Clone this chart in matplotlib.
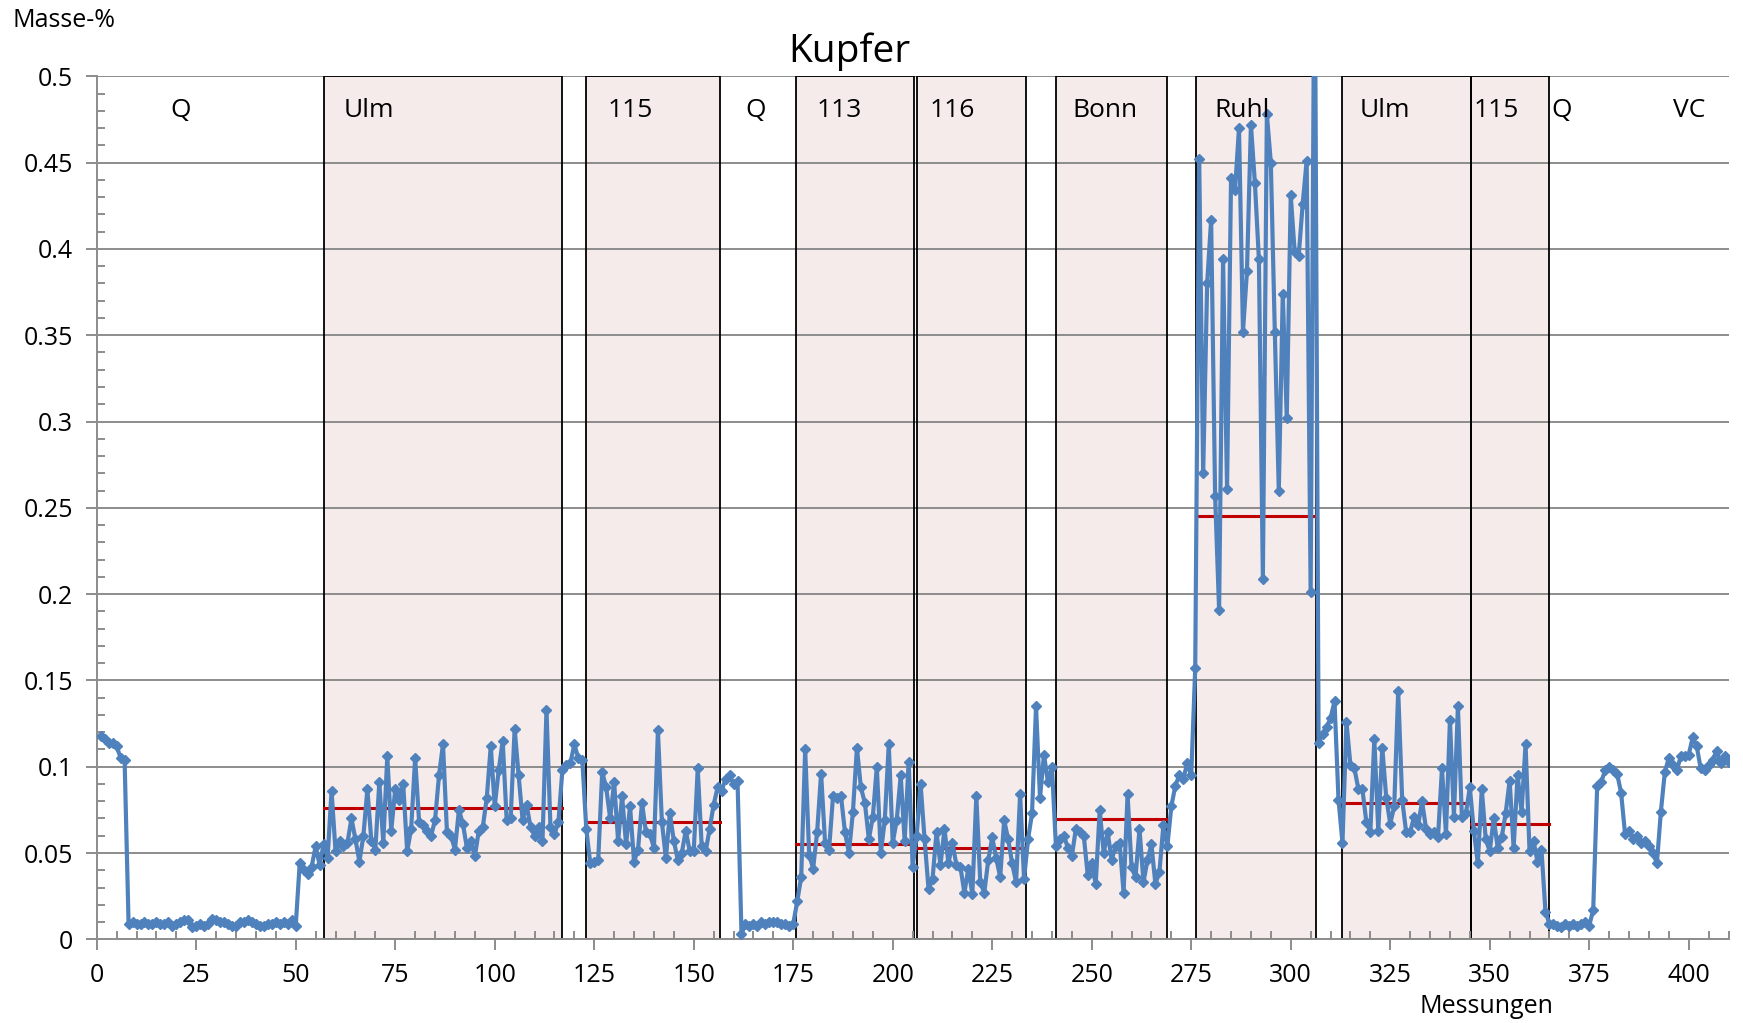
import numpy as np
import matplotlib.pyplot as plt
from matplotlib.patches import Rectangle
from matplotlib.ticker import MultipleLocator, FuncFormatter

plt.rcParams['font.family'] = ['Open Sans', 'DejaVu Sans']

# Kupfer, Masse-% je Messung (Messung 1..410)
q_start = [0.118, 0.116, 0.114, 0.114, 0.112, 0.105, 0.104,
           0.009, 0.010, 0.009, 0.009, 0.010, 0.009, 0.009, 0.010, 0.009, 0.009,
           0.010, 0.008, 0.009, 0.010, 0.011, 0.011, 0.007, 0.008, 0.009, 0.008,
           0.009, 0.012, 0.011, 0.010, 0.010, 0.009, 0.008, 0.008, 0.010, 0.010,
           0.011, 0.010, 0.009, 0.008, 0.008, 0.009, 0.009, 0.010, 0.009, 0.010,
           0.009, 0.011, 0.008,
           0.044, 0.040, 0.038, 0.042, 0.054, 0.043, 0.055]
ulm_a = [0.047, 0.086, 0.051, 0.057, 0.054, 0.056, 0.070, 0.058, 0.045, 0.060,
         0.087, 0.057, 0.052, 0.091, 0.056, 0.106, 0.063, 0.087, 0.081, 0.090,
         0.051, 0.064, 0.105, 0.068, 0.066, 0.063, 0.060, 0.069, 0.095, 0.113,
         0.062, 0.060, 0.052, 0.075, 0.067, 0.053, 0.057, 0.048, 0.063, 0.065,
         0.082, 0.112, 0.077, 0.098, 0.115, 0.069, 0.070, 0.122, 0.095, 0.069,
         0.078, 0.065, 0.060, 0.065, 0.057, 0.133, 0.065, 0.061, 0.068, 0.098]
gap_a = [0.101, 0.102, 0.113, 0.105, 0.104]
p115_a = [0.064, 0.044, 0.045, 0.046, 0.097, 0.088, 0.070, 0.091, 0.057, 0.083,
          0.055, 0.077, 0.045, 0.052, 0.079, 0.062, 0.061, 0.053, 0.121, 0.068,
          0.047, 0.073, 0.057, 0.046, 0.050, 0.063, 0.051, 0.051, 0.099, 0.054,
          0.051, 0.064, 0.078, 0.088]
gap_b = [0.086, 0.093, 0.095, 0.090, 0.092]
q_mid = [0.003, 0.009, 0.008, 0.009, 0.008, 0.010, 0.009, 0.010, 0.010, 0.010,
         0.009, 0.009, 0.008, 0.009]
p113 = [0.022, 0.036, 0.110, 0.049, 0.041, 0.062, 0.096, 0.056, 0.052, 0.083,
        0.082, 0.083, 0.062, 0.050, 0.074, 0.111, 0.088, 0.079, 0.058, 0.071,
        0.100, 0.050, 0.069, 0.113, 0.056, 0.069, 0.095, 0.057, 0.103, 0.042, 0.060]
p116 = [0.090, 0.058, 0.029, 0.035, 0.062, 0.043, 0.064, 0.044, 0.056, 0.043,
        0.042, 0.027, 0.041, 0.026, 0.083, 0.033, 0.027, 0.046, 0.059, 0.047,
        0.036, 0.069, 0.058, 0.044, 0.033, 0.084, 0.035]
gap_c = [0.058, 0.073, 0.135, 0.082, 0.107, 0.091, 0.100]
bonn = [0.054, 0.058, 0.060, 0.053, 0.048, 0.064, 0.062, 0.060, 0.037, 0.044,
        0.032, 0.075, 0.050, 0.062, 0.046, 0.054, 0.056, 0.027, 0.084, 0.042,
        0.036, 0.064, 0.033, 0.046, 0.055, 0.032, 0.039, 0.066, 0.054]
gap_d = [0.077, 0.089, 0.095, 0.093, 0.102, 0.095, 0.157]
ruhl = [0.452, 0.270, 0.380, 0.417, 0.257, 0.191, 0.394, 0.261, 0.441, 0.434,
        0.470, 0.352, 0.387, 0.472, 0.438, 0.394, 0.209, 0.478, 0.450, 0.352,
        0.260, 0.374, 0.302, 0.431, 0.398, 0.396, 0.426, 0.451, 0.201]
gap_e = [0.600, 0.114, 0.119, 0.123, 0.128, 0.138, 0.081]
ulm_b = [0.056, 0.126, 0.101, 0.099, 0.087, 0.087, 0.068, 0.062, 0.116, 0.063,
         0.111, 0.082, 0.067, 0.077, 0.144, 0.081, 0.062, 0.062, 0.071, 0.066,
         0.080, 0.064, 0.061, 0.062, 0.059, 0.099, 0.061, 0.127, 0.071, 0.135,
         0.071, 0.073, 0.088]
p115_b = [0.063, 0.044, 0.087, 0.058, 0.051, 0.070, 0.053, 0.059, 0.073, 0.092,
          0.053, 0.095, 0.074, 0.113, 0.051, 0.057, 0.045, 0.052, 0.016]
q_end = [0.009, 0.009, 0.008, 0.007, 0.009, 0.008, 0.009, 0.008, 0.009, 0.010,
         0.008, 0.017]
vc = [0.089, 0.091, 0.098, 0.100, 0.098, 0.096, 0.085, 0.061, 0.063, 0.058,
      0.060, 0.056, 0.057, 0.054, 0.050, 0.044, 0.074, 0.097, 0.105, 0.101,
      0.098, 0.106, 0.106, 0.107, 0.117, 0.112, 0.099, 0.098, 0.101, 0.104,
      0.109, 0.102, 0.106, 0.103]

werte = np.array(q_start + ulm_a + gap_a + p115_a + gap_b + q_mid + p113 + p116
                 + gap_c + bonn + gap_d + ruhl + gap_e + ulm_b + p115_b + q_end + vc)
messung = np.arange(1, len(werte) + 1)

# Probenbereiche (Start, Ende) und Bezugswert (rote Linie)
box_start = [57.0, 122.9, 175.7, 206.1, 241.1, 276.3, 312.8, 345.3]
box_end = [117.0, 156.7, 205.3, 233.5, 269.0, 306.4, 345.3, 364.8]
box_ref = [0.076, 0.0677, 0.0554, 0.0528, 0.0696, 0.2455, 0.0790, 0.0670]

labels = ['Q', 'Ulm', '115', 'Q', '113', '116', 'Bonn', 'Ruhl', 'Ulm', '115', 'Q', 'VC']
label_x = [21, 68.5, 134, 165.5, 186.5, 215, 253.3, 287.7, 323.7, 351.6, 368, 400]

blue = '#4F81BD'
fig = plt.figure(figsize=(17.43, 10.23), dpi=100)
ax = fig.add_axes([0.0555, 0.0818, 0.9362, 0.8436])

for s, e, r in zip(box_start, box_end, box_ref):
    ax.add_patch(Rectangle((s, 0), e - s, 0.5, facecolor='#F5EBEA', edgecolor='none', zorder=0.5))
    ax.add_patch(Rectangle((s, 0), e - s, 0.5, facecolor='none', edgecolor='black', lw=1.3, zorder=1.5))
    ax.plot([s, e], [r, r], color='#C00000', lw=2.2, zorder=2)

for g in np.arange(0.05, 0.51, 0.05):
    ax.axhline(g, color='#8C8C8C', lw=1.4, zorder=1)

ax.plot(messung, werte, color=blue, lw=3, marker='D', markersize=5.5, zorder=3)

for t, x in zip(labels, label_x):
    ax.text(x, 0.480, t, ha='center', va='center', fontsize=19, zorder=4)

ax.set_xlim(0, 410)
ax.set_ylim(0, 0.5)
ax.xaxis.set_major_locator(MultipleLocator(25))
ax.xaxis.set_minor_locator(MultipleLocator(5))
ax.yaxis.set_major_locator(MultipleLocator(0.05))
ax.yaxis.set_minor_locator(MultipleLocator(0.01))
ax.yaxis.set_major_formatter(FuncFormatter(lambda v, p: f"{v:.2f}".rstrip('0').rstrip('.') if v else '0'))
ax.tick_params(axis='both', which='major', direction='out', length=8, width=1.4,
               color='#8C8C8C', labelsize=18, pad=9)
ax.tick_params(axis='both', which='minor', direction='in', length=6, width=1.4, color='#8C8C8C')
for side in ['top', 'right']:
    ax.spines[side].set_visible(False)
for side in ['left', 'bottom']:
    ax.spines[side].set_color('#8C8C8C')
    ax.spines[side].set_linewidth(1.4)

fig.text(0.007, 0.980, 'Masse-%', fontsize=18, ha='left', va='center')
fig.text(0.487, 0.949, 'Kupfer', fontsize=28, ha='center', va='center')
fig.text(0.853, 0.016, 'Messungen', fontsize=18, ha='center', va='center')

fig.savefig('out.png', dpi=100)
